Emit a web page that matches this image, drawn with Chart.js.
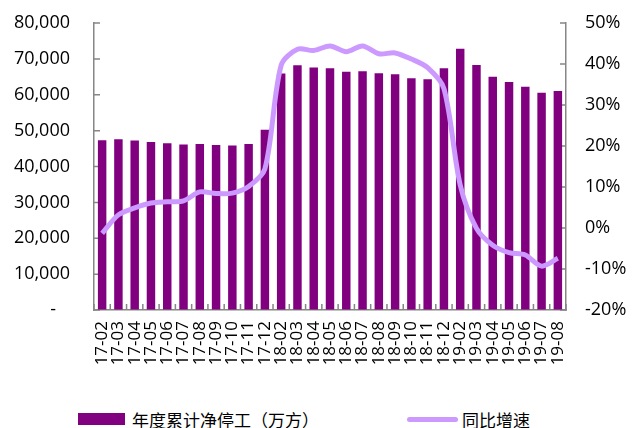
<!DOCTYPE html>
<html>
<head>
<meta charset="utf-8">
<script src="https://cdn.jsdelivr.net/npm/chart.js@4"></script>
<style>
  body { margin: 0; background: #fff; }
  #wrap { position: relative; width: 633px; height: 428px; }
  #legend { position: absolute; left: 0; top: 408px; width: 633px; height: 22px;
    font: 17px "Noto Sans CJK SC", sans-serif; color: #000; }
  .item { position: absolute; top: 0; height: 22px; display: flex; align-items: center; white-space: nowrap; }
  .sw-bar { width: 47px; height: 12px; background: #800080; margin-right: 7px; }
  .sw-line { width: 51px; height: 5px; border-radius: 3px; background: #CC99FF; margin-right: 4px; }
</style>
</head>
<body>
<div id="wrap">
  <canvas id="stopChart" width="633" height="400"></canvas>
  <div id="legend">
    <div class="item" style="left:78px"><span class="sw-bar"></span>年度累计净停工（万方）</div>
    <div class="item" style="left:407px"><span class="sw-line"></span>同比增速</div>
  </div>
</div>
<script>
const months = ['17-02', '17-03', '17-04', '17-05', '17-06', '17-07', '17-08', '17-09', '17-10', '17-11', '17-12',
	'18-02', '18-03', '18-04', '18-05', '18-06', '18-07', '18-08', '18-09', '18-10', '18-11', '18-12',
	'19-02', '19-03', '19-04', '19-05', '19-06', '19-07', '19-08'];
// 年度累计净停工（万方）
const netStoppage = [47350, 47600, 47270, 46800, 46500, 46150, 46240, 45960, 45870, 46240, 50230,
	65930, 68250, 67600, 67400, 66430, 66530, 65970, 65690, 64580, 64300, 67360,
	72850, 68290, 65040, 63550, 62250, 60580, 61050];
// 同比增速（%）
const yoyGrowth = [-1.3, 3.2, 4.9, 6.1, 6.4, 6.6, 8.8, 8.4, 8.5, 10.1, 14.4,
	39.7, 43.6, 43.3, 44.4, 43.0, 44.4, 42.5, 42.7, 41.2, 39.1, 34.0,
	10.5, -0.1, -4.2, -6.0, -6.6, -9.3, -7.4];

const axisColor = '#868686';
const tickFont = { family: "'Open Sans', 'Liberation Sans', sans-serif", size: 18 };

// short tick marks pointing into the plot area
const innerTicks = {
	id: 'innerTicks',
	beforeDatasetsDraw(chart) {
		const { ctx, chartArea, scales } = chart;
		ctx.save();
		ctx.strokeStyle = axisColor;
		ctx.lineWidth = 1.5;
		ctx.beginPath();
		scales.y.ticks.forEach(t => {
			const py = scales.y.getPixelForValue(t.value);
			ctx.moveTo(chartArea.left, py);
			ctx.lineTo(chartArea.left + 6, py);
		});
		scales.y1.ticks.forEach(t => {
			const py = scales.y1.getPixelForValue(t.value);
			ctx.moveTo(chartArea.right, py);
			ctx.lineTo(chartArea.right - 6, py);
		});
		for (let i = 0; i <= months.length; i++) {
			const px = scales.x.getPixelForValue(i - 0.5);
			ctx.moveTo(px, chartArea.bottom);
			ctx.lineTo(px, chartArea.bottom - 6);
		}
		ctx.stroke();
		ctx.restore();
	}
};

// outer tick marks are kept invisible; their length just spaces the labels off the axis
const hiddenGrid = len => ({
	display: true,
	drawOnChartArea: false,
	drawTicks: true,
	tickLength: len,
	tickColor: 'transparent'
});

const ctx = document.getElementById('stopChart').getContext('2d');
new Chart(ctx, {
	data: {
		labels: months,
		datasets: [{
			type: 'bar',
			label: '年度累计净停工（万方）',
			data: netStoppage,
			backgroundColor: '#800080',
			barPercentage: 0.52,
			categoryPercentage: 1,
			yAxisID: 'y',
			order: 2
		}, {
			type: 'line',
			label: '同比增速',
			data: yoyGrowth,
			borderColor: '#CC99FF',
			borderWidth: 5,
			pointRadius: 0,
			tension: 0.3,
			fill: false,
			yAxisID: 'y1',
			order: 1
		}]
	},
	options: {
		responsive: false,
		animation: false,
		layout: { padding: { top: 23, left: 0, right: 0, bottom: 0 } },
		plugins: {
			legend: { display: false },
			tooltip: { enabled: false }
		},
		scales: {
			x: {
				offset: true,
				grid: { ...hiddenGrid(11), offset: true },
				border: { display: true, color: axisColor, width: 1.5 },
				ticks: {
					color: '#000',
					font: { family: tickFont.family, size: 17 },
					minRotation: 90,
					maxRotation: 90,
					autoSkip: false,
					padding: 0
				},
				afterFit(scale) { scale.height = 90; }
			},
			y: {
				position: 'left',
				min: 0,
				max: 80000,
				grid: hiddenGrid(24),
				border: { display: true, color: axisColor, width: 1.5 },
				ticks: {
					stepSize: 10000,
					color: '#000',
					font: tickFont,
					padding: 0,
					callback: v => v === 0 ? '-   ' : v.toLocaleString('en-US')
				},
				afterFit(scale) { scale.width = 94; }
			},
			y1: {
				position: 'right',
				min: -20,
				max: 50,
				grid: hiddenGrid(19),
				border: { display: true, color: axisColor, width: 1.5 },
				ticks: {
					stepSize: 10,
					color: '#000',
					font: tickFont,
					padding: 0,
					callback: v => v + '%'
				},
				afterFit(scale) { scale.width = 67; }
			}
		}
	},
	plugins: [innerTicks]
});
</script>
</body>
</html>
